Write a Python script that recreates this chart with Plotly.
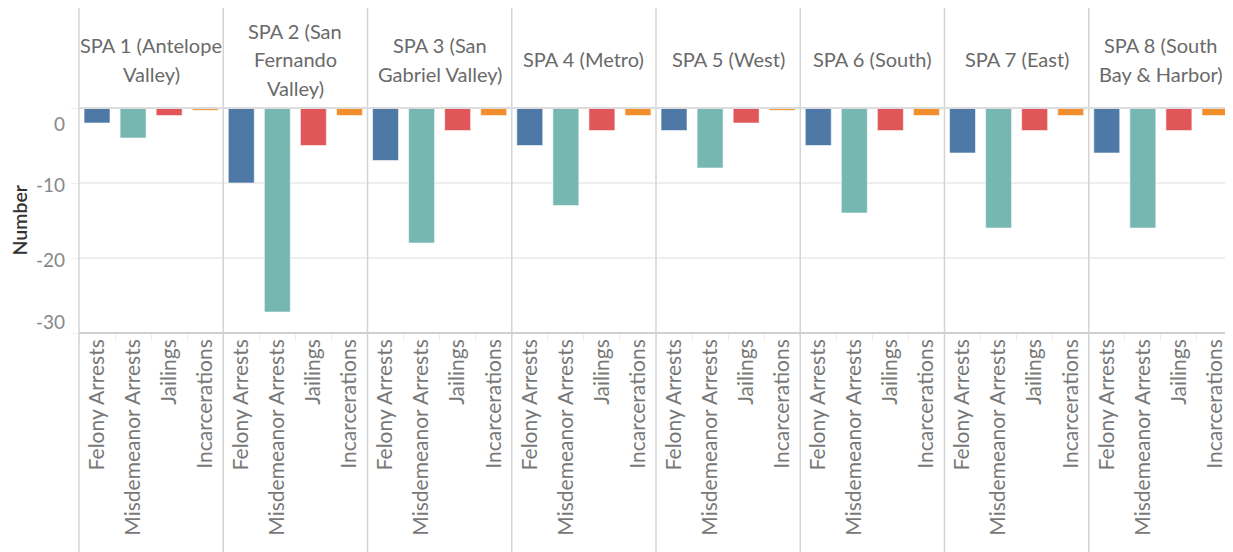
import plotly.graph_objects as go
from plotly.subplots import make_subplots

# ---- data ----
regions = [
    "SPA 1 (Antelope\nValley)",
    "SPA 2 (San\nFernando\nValley)",
    "SPA 3 (San\nGabriel Valley)",
    "SPA 4 (Metro)",
    "SPA 5 (West)",
    "SPA 6 (South)",
    "SPA 7 (East)",
    "SPA 8 (South\nBay & Harbor)",
]
categories = ["Felony Arrests", "Misdemeanor Arrests", "Jailings", "Incarcerations"]
felony_arrests = [-2, -10, -7, -5, -3, -5, -6, -6]
misdemeanor_arrests = [-4, -27.2, -18, -13, -8, -14, -16, -16]
jailings = [-1, -5, -3, -3, -2, -3, -3, -3]
incarcerations = [-0.3, -1, -1, -1, -0.3, -1, -1, -1]
ytick_vals = [0, -10, -20, -30]
ytick_text = ["0", "-10", "-20", "-30"]

colors = ["#4E79A7", "#76B7B2", "#E15759", "#F28E2B"]
FONT = "Lato"

# page is 1233x552; the html body has an 8px margin
OFF = 8
PAGE_W, PAGE_H = 1233, 552
W, H = PAGE_W - OFF, PAGE_H - OFF
ML, MR, MT, MB = 79 - OFF, 0, 108 - OFF, 219
PH = H - MT - MB          # 225
PW = W - ML - MR          # 1154
PLOT_BOTTOM_PAGE = OFF + MT + PH  # 333
n = len(regions)

fig = make_subplots(rows=1, cols=n, shared_yaxes=True, horizontal_spacing=0)

for i in range(n):
    vals = [felony_arrests[i], misdemeanor_arrests[i], jailings[i], incarcerations[i]]
    fig.add_trace(
        go.Bar(
            x=categories,
            y=vals,
            marker=dict(color=colors, line=dict(color="rgba(255,255,255,0.55)", width=1)),
            showlegend=False,
            hovertemplate="%{x}: %{y}<extra></extra>",
        ),
        row=1,
        col=i + 1,
    )

fig.update_xaxes(
    type="category",
    showgrid=False,
    zeroline=False,
    showline=False,
    ticks="outside",
    tickson="boundaries",
    ticklen=7,
    tickcolor="#eeeeee",
    tickwidth=1,
    tickangle=-90,
    ticklabelstandoff=1,
    tickfont=dict(family=FONT, size=21, color="#787878"),
    fixedrange=True,
)
fig.update_yaxes(
    range=[-30, 0],
    tickvals=ytick_vals,
    showticklabels=False,
    showgrid=True,
    gridcolor="#eeeeee",
    gridwidth=1.5,
    zeroline=False,
    showline=False,
    fixedrange=True,
)
fig.update_yaxes(ticks="outside", ticklen=7, tickcolor="#eeeeee", row=1, col=1)

def py2paper(py):
    """page pixel y -> paper coordinate"""
    return (PLOT_BOTTOM_PAGE - py) / PH

def px2paper(px):
    """page pixel x -> paper coordinate"""
    return (px - OFF - ML) / PW

shapes = []
# panel dividers (full height, header to bottom)
for k in range(n + 1):
    shapes.append(dict(type="line", xref="paper", yref="paper",
                       x0=k / n, x1=k / n, y0=py2paper(PAGE_H), y1=py2paper(7),
                       line=dict(color="#d4d4d4", width=1.5)))
# top (zero) line and bottom axis line
shapes.append(dict(type="line", xref="paper", yref="paper", x0=0, x1=1, y0=1, y1=1,
                   line=dict(color="#dcdcdc", width=2)))
shapes.append(dict(type="line", xref="paper", yref="paper", x0=0, x1=1, y0=0, y1=0,
                   line=dict(color="#d0d0d0", width=2)))

annotations = []
# headers, line by line
line_gap = 28.3
center_py = 59.4
for i, name in enumerate(regions):
    lines = name.split("\n")
    m = len(lines)
    for j, ln in enumerate(lines):
        py = center_py + (j - (m - 1) / 2) * line_gap
        annotations.append(dict(
            text=ln, xref="paper", yref="paper",
            x=(i + 0.5) / n, y=py2paper(py),
            xanchor="center", yanchor="middle", showarrow=False,
            font=dict(family=FONT, size=20, color="#6a6a6a"),
        ))

# y tick labels (Tableau-style, kept inside the pane at the ends)
label_shift = {0: -15.7, -10: -1.5, -20: -1.5, -30: 11.6}
for v, t in zip(ytick_vals, ytick_text):
    annotations.append(dict(
        text=t, xref="paper", yref="y", x=0, y=v, xshift=-12, yshift=label_shift[v],
        xanchor="right", yanchor="middle", showarrow=False,
        font=dict(family=FONT, size=19, color="#888888"),
    ))

# y axis title
annotations.append(dict(
    text="Number", xref="paper", yref="paper",
    x=px2paper(18.5), y=py2paper(220),
    xanchor="center", yanchor="middle", textangle=-90, showarrow=False,
    font=dict(family=FONT, size=19.5, color="#333333", weight=600),
))

fig.update_layout(
    width=W, height=H,
    margin=dict(l=ML, r=MR, t=MT, b=MB, pad=0),
    paper_bgcolor="white", plot_bgcolor="white",
    bargap=0.28,
    barmode="relative",
    shapes=shapes,
    annotations=annotations,
    font=dict(family=FONT),
)

fig.write_html("out.html")
